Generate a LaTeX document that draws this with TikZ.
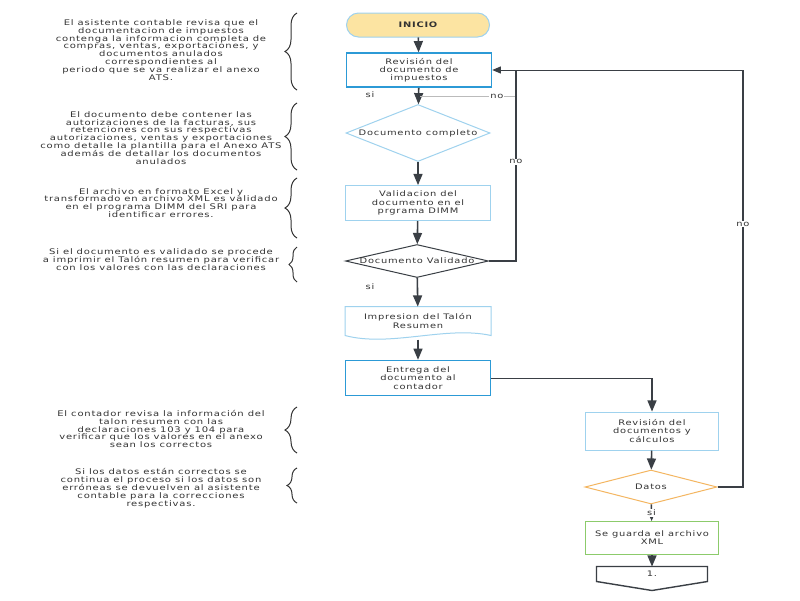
\documentclass[tikz,border=0pt]{standalone}
\usepackage{fontspec}
\setmainfont{DejaVu Sans}[FakeStretch=1.3,LetterSpace=10]
\usetikzlibrary{positioning}
\usetikzlibrary{shapes.geometric}
\usetikzlibrary{arrows}
\usetikzlibrary{decorations.pathreplacing}

\definecolor{inkgray}{HTML}{3A3F45}
\definecolor{boxblue}{HTML}{2C9AD6}
\definecolor{paleblue}{HTML}{9FD2EE}
\definecolor{sunfill}{HTML}{FCE4A2}
\definecolor{orangeline}{HTML}{F4B661}
\definecolor{greenline}{HTML}{8CCB6B}
\definecolor{textgray}{HTML}{333333}
\definecolor{softgray}{HTML}{BBBBBB}

\newcommand\flowtext{\fontsize{7.6}{8.2}\selectfont}
\newcommand\sidetext{\fontsize{7.7}{7.9}\selectfont}

\begin{document}
\begin{tikzpicture}
[x=1pt,y=-1pt,
 box/.style={shape=rectangle,draw=paleblue,line width=1pt,minimum width=145pt,
   minimum height=35pt,inner sep=1pt,align=center,font=\flowtext,text=textgray},
 strong/.style={draw=boxblue,line width=1.6pt},
 terminal/.style={box,rounded corners=12pt,fill=sunfill,minimum width=143pt,
   minimum height=24pt,font=\flowtext\bfseries},
 decision/.style={shape=diamond,draw,line width=1pt,inner sep=0pt,
   font=\flowtext,text=textgray},
 flow/.style={-triangle 45,draw=inkgray,line width=1.6pt},
 back/.style={draw=inkgray,line width=1.8pt},
 tag/.style={fill=white,inner sep=1pt,font=\flowtext,text=textgray},
 note/.style={align=center,font=\sidetext,text=textgray},
 curly/.style={decorate,decoration={brace,amplitude=12pt},draw=textgray,line width=1pt}]

\useasboundingbox [fill=white] (0,0) rectangle (800,600);

\node (inicio) at (418,25) [terminal] {INICIO};
\node (rev) at (419,70) [box,strong,minimum height=34pt] {Revisión del\\documento de\\impuestos};
\node (comp) at (418,133) [decision,draw=paleblue,minimum width=144pt,minimum height=57pt]
	{\makebox[0pt]{Documento completo}};
\node (vali) at (418,203) [box] {Validacion del\\documento en el\\prgrama DIMM};
\node (val) at (417,261) [decision,draw=inkgray,minimum width=143pt,minimum height=33pt]
	{\makebox[0pt]{Documento Validado}};
\node (imp) at (418,321) [box,draw=none,minimum height=28pt] {Impresion del Talón\\Resumen};
\node (ent) at (418,378) [box,strong] {Entrega del\\documento al\\contador};
\node (revd) at (652,431) [box,minimum width=133pt,minimum height=38pt] {Revisión del\\documentos y\\cálculos};
\node (datos) at (651,487) [decision,draw=orangeline,minimum width=132pt,minimum height=34pt]
	{\makebox[0pt]{Datos}};
\node (guard) at (652,538) [box,draw=greenline,minimum width=133pt,minimum height=33pt] {Se guarda el archivo\\XML};
\node (conn) at (652,574) [box,draw=none,minimum width=110pt,minimum height=14pt] {1.};

\draw [paleblue,line width=1pt] (imp.north west) -- (imp.north east) -- (imp.south east)
	.. controls +(-45,-10) and +(45,12) .. (imp.south west) -- cycle;
\draw [inkgray,line width=1.4pt] (conn.north west) -- (conn.north east) -- (conn.south east)
	-- ([yshift=-9pt]conn.south) -- (conn.south west) -- cycle;

\draw [flow] (inicio) -- (rev);
\draw [flow] (rev) -- (comp);
\draw [flow] (comp) -- (vali);
\draw [flow] (vali) -- (val);
\draw [flow] (val) -- (imp);
\draw [flow] (imp.south) ++(0,4) -- (ent);
\draw [flow] (revd) -- (datos);
\draw [flow] (guard) -- (conn);

\coordinate (k1) at (516,70);
\coordinate (k2) at (743,70);
\coordinate (g1) at (420,96);
\coordinate (e1) at (652,378);

\node at (370,95) [tag,fill=none] {si};
\node at (370,287) [tag,fill=none] {si};

\draw [softgray,line width=.8pt] (g1) -- node [tag,pos=.8] {no} (g1 -| k1);
\draw [back] (val.east) -| node [tag,pos=.76] {no} (k1);
\draw [back] (datos.east) -| node [tag,pos=.815] {no} (k2);
\draw [-triangle 45,draw=inkgray,line width=1pt] (k2) -- (rev.east);

\draw [inkgray,line width=.8pt] (ent.east) -- (e1);
\draw [flow] (e1) -- (revd);
\draw [flow] (datos) -- node [tag] {si} (guard);

\node (n1) at (161,50) [note] {El asistente contable revisa que el\\documentacion de impuestos\\
	contenga la informacion completa de\\compras,  ventas, exportaciones, y\\documentos anulados\\
	correspondientes al\\periodo que se va realizar el anexo\\ATS.};
\node (n2) at (161,138) [note] {El documento debe contener las\\autorizaciones de la facturas, sus\\
	retenciones con sus respectivas\\autorizaciones, ventas y exportaciones\\
	como detalle la plantilla para el Anexo ATS\\además de detallar los documentos\\anulados};
\node (n3) at (161,203) [note] {El archivo en formato Excel y\\transformado en archivo XML es validado\\
	en el programa DIMM del SRI para\\identificar errores.};
\node (n4) at (161,260) [note] {Si el documento es validado se procede\\a imprimir el Talón resumen para verificar\\
	con los valores con las declaraciones};
\node (n5) at (161,429) [note] {El contador revisa la información del\\talon resumen con las\\
	declaraciones 103 y 104 para\\verificar que los valores en el anexo\\sean los correctos};
\node (n6) at (161,488) [note] {Si los datos están correctos se\\continua el proceso si los datos son\\
	erróneas se devuelven al asistente\\contable para la correcciones\\respectivas.};

\draw [curly] (297,90) -- (297,13);
\draw [curly] (297,170) -- (297,103);
\draw [curly] (297,238) -- (297,178);
\draw [curly,decoration={amplitude=8pt}] (297,282) -- (297,247);
\draw [curly] (297,453) -- (297,407);
\draw [curly,decoration={amplitude=10pt}] (297,503) -- (297,468);
\end{tikzpicture}
\end{document}
